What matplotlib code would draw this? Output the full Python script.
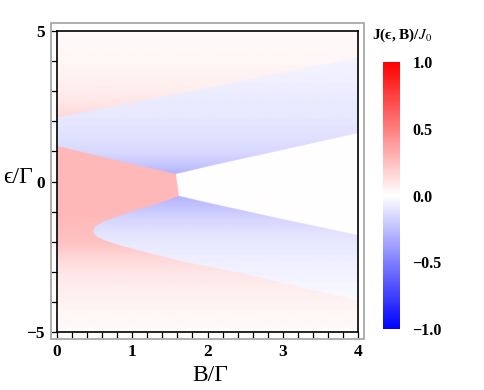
import matplotlib
matplotlib.use("Agg")
import matplotlib.pyplot as plt
import numpy as np
from matplotlib.patches import Rectangle

plt.rcParams['font.family'] = ['Liberation Serif', 'DejaVu Serif']
plt.rcParams['mathtext.fontset'] = 'stix'

# boundaries (B/Gamma, eps/Gamma)
B_up_top = [0.0, 1.0, 2.0, 3.0, 4.0]
eps_up_top = [2.14, 2.62, 3.12, 3.62, 4.13]

# lower edge of the upper blue band (left part meets red, right part meets white)
B_up_low = [0.0, 0.5, 1.0, 1.58, 2.0, 3.0, 4.0]
eps_up_low = [1.18, 0.88, 0.58, 0.25, 0.5, 1.05, 1.61]

# lower edge of the white wedge
B_white_low = [1.62, 2.0, 3.0, 4.0]
eps_white_low = [-0.48, -0.7, -1.25, -1.78]

# red / white edge at the tip
eps_tip = [-0.48, 0.25]
B_tip = [1.62, 1.58]

# left edge (nose) of the lower blue band, as B(eps)
eps_nose = [-3.95, -3.5, -3.1, -2.67, -2.3, -2.1, -1.95, -1.85, -1.76, -1.68,
            -1.6, -1.5, -1.35, -1.18, -1.0, -0.75, -0.48]
B_nose = [4.0, 3.2, 2.56, 1.68, 1.1, 0.8, 0.63, 0.54, 0.5, 0.48,
          0.485, 0.51, 0.6, 0.78, 0.98, 1.32, 1.62]

# J/J0 levels
eps_v_up = [0.25, 0.6, 1.0, 1.6, 2.2, 3.0, 4.2]
v_up = [-0.3, -0.21, -0.15, -0.11, -0.09, -0.07, -0.04]

eps_v_low = [-3.95, -3.0, -2.2, -1.7, -1.2, -0.8, -0.48]
v_low = [-0.02, -0.05, -0.08, -0.11, -0.17, -0.24, -0.3]

eps_v_red = [-5.0, -4.5, -4.0, -3.5, -3.0, -2.5, -2.0, -1.0, 1.2]
v_red = [0.02, 0.03, 0.05, 0.07, 0.1, 0.16, 0.24, 0.28, 0.28]

eps_v_top = [2.1, 2.5, 3.0, 3.5, 4.0, 5.0]
v_top = [0.16, 0.11, 0.07, 0.05, 0.035, 0.02]

# build the map
B = np.linspace(0, 4, 700)
eps = np.linspace(-5, 5, 900)
BB, EE = np.meshgrid(B, eps)

top = np.interp(BB, B_up_top, eps_up_top)
mid = np.interp(BB, B_up_low, eps_up_low)
wlow = np.interp(BB, B_white_low, eps_white_low)
tipB = np.interp(EE, eps_tip, B_tip)
noseB = np.interp(EE, eps_nose, B_nose)

J = np.where(EE < 1.7, np.interp(EE, eps_v_red, v_red), np.interp(EE, eps_v_top, v_top))

upper = (EE > mid) & (EE < top)
J[upper] = np.interp(EE, eps_v_up, v_up)[upper]

white = (EE <= mid) & (EE > wlow) & (BB > tipB) & (BB > 1.55)
J[white] = 0.0

lower = (EE > -3.95) & (EE <= -0.48) & (BB > noseB) & ((BB < 1.62) | (EE <= wlow))
J[lower] = np.interp(EE, eps_v_low, v_low)[lower]

fig = plt.figure(figsize=(4.85, 3.9), dpi=100)
ax = fig.add_axes([57 / 485, 58 / 390, 301 / 485, 301 / 390])
im = ax.imshow(J, origin='lower', extent=[0, 4, -5, 5], aspect='auto',
               cmap='bwr', vmin=-1, vmax=1, interpolation='bilinear')

ax.set_xlim(0, 4)
ax.set_ylim(-5, 5)
ax.set_xticks([0, 1, 2, 3, 4])
ax.set_xticks(np.arange(0, 4.01, 0.2), minor=True)
ax.set_yticks([-5, 0, 5])
ax.set_yticks(np.arange(-5, 6, 1), minor=True)
ax.tick_params(which='both', direction='out', length=4.3, width=0.9, labelsize=12.5)
ax.tick_params(axis='x', which='both', pad=4.5)
ax.tick_params(axis='y', which='both', pad=4.5)
for lab in ax.get_xticklabels() + ax.get_yticklabels():
    lab.set_fontweight('bold')
for s in ax.spines.values():
    s.set_linewidth(1.2)

# outer light frame
fig.patches.append(Rectangle((51 / 485, 51 / 390), 313 / 485, 316 / 390,
                             transform=fig.transFigure, fill=False,
                             edgecolor='#a8a8a8', linewidth=1.3))

fig.text(0.433, 0.036, 'B/Γ', ha='center', va='center', fontsize=17)
fig.text(0.006, 0.545, 'ϵ/Γ', ha='left', va='center', fontsize=17)

cax = fig.add_axes([383 / 485, 61 / 390, 17 / 485, 267 / 390])
cb = fig.colorbar(im, cax=cax, ticks=[-1.0, -0.5, 0.0, 0.5, 1.0])
cb.outline.set_visible(False)
cax.tick_params(length=0, pad=9, labelsize=11.5)
cax.set_yticklabels(['−1.0', '−0.5', '0.0', '0.5', '1.0'], fontweight='bold')
fig.text(0.828, 0.91, r'J(ϵ, B)/$J_0$', ha='center', va='center',
         fontsize=11, fontweight='bold')

fig.savefig('out.png', dpi=100)
